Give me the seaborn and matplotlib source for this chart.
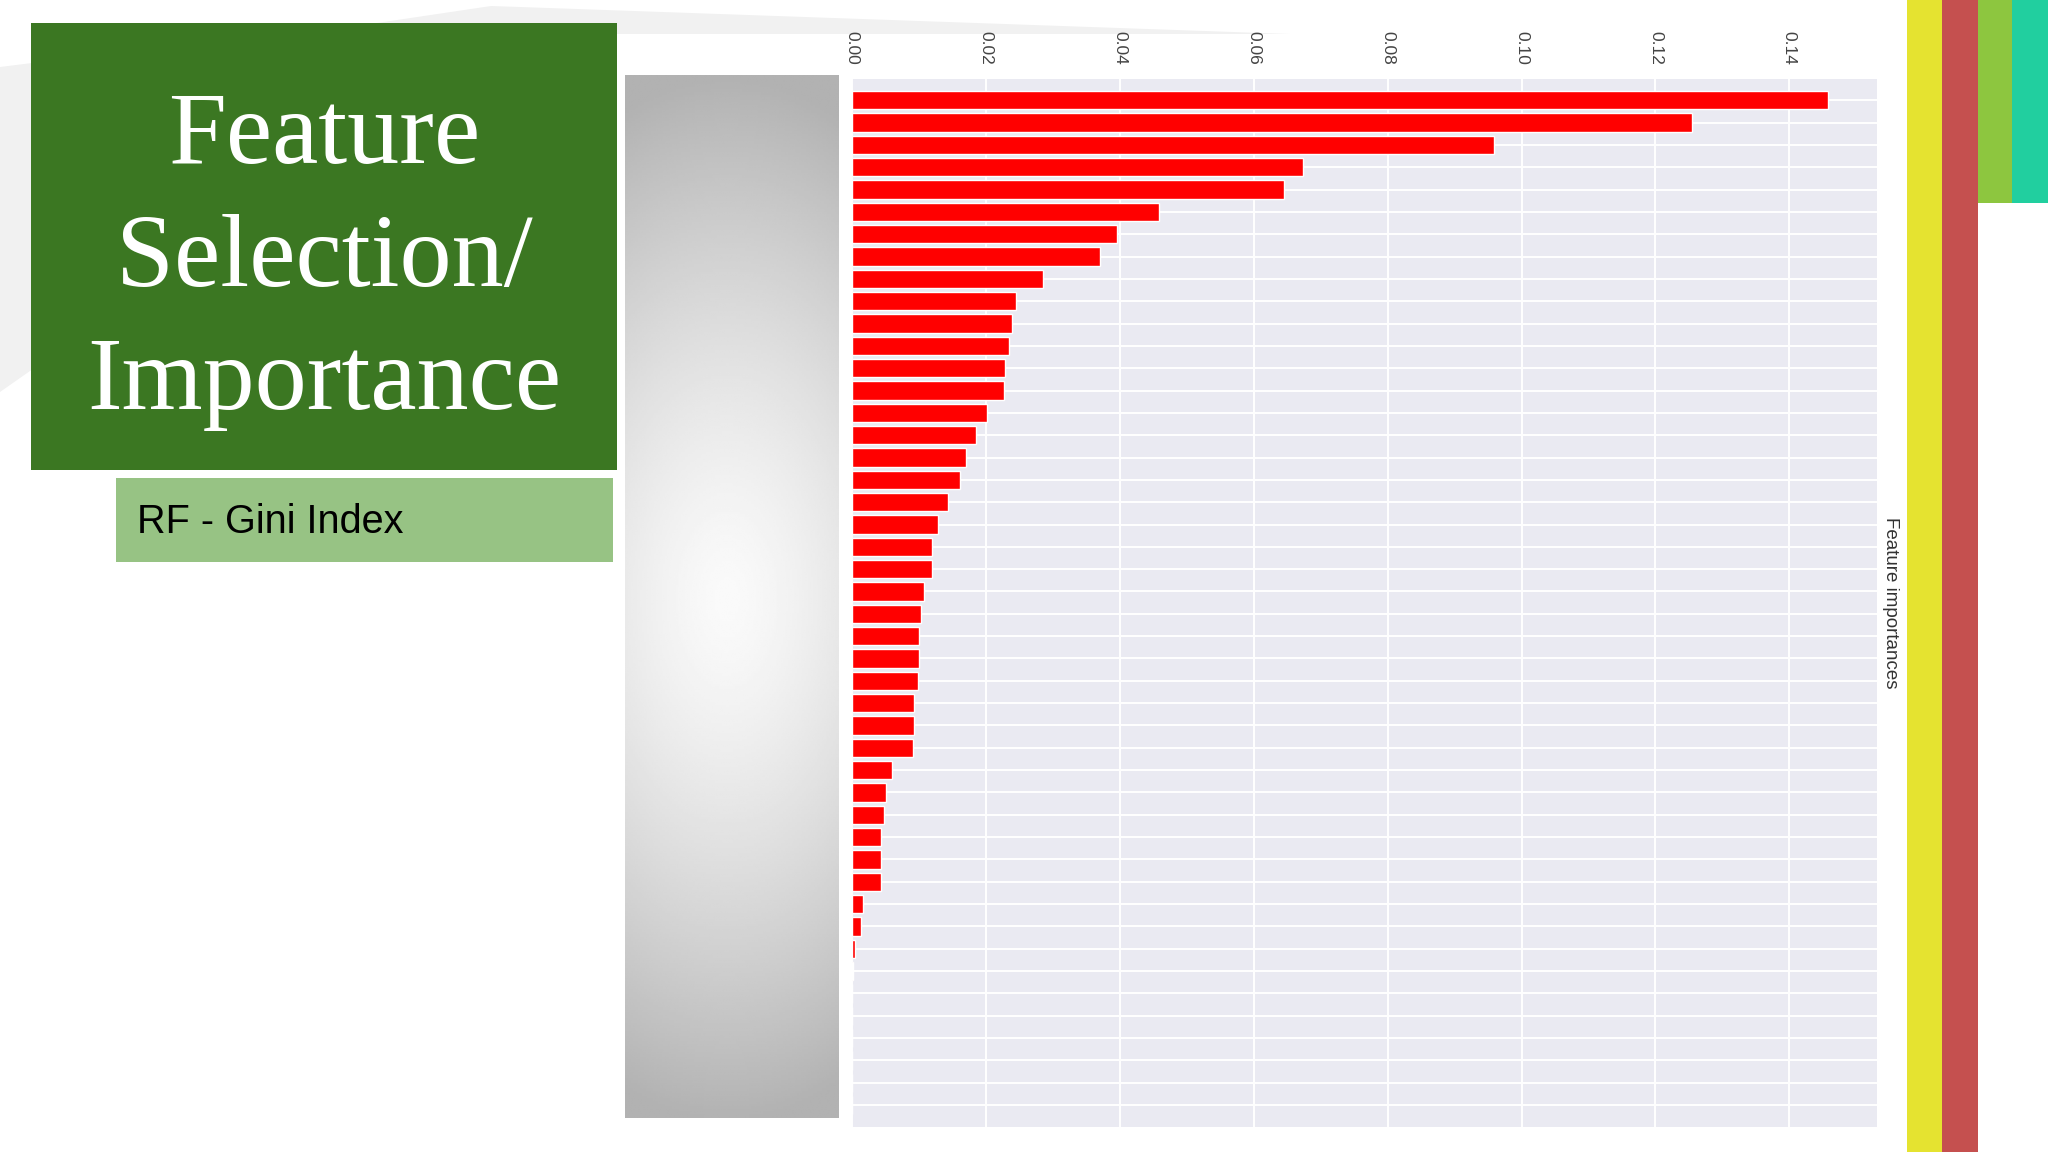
import numpy as np
import pandas as pd
import matplotlib
matplotlib.use("Agg")
import matplotlib.pyplot as plt
import seaborn as sns
from matplotlib.patches import Rectangle, Polygon

# ---------------- data ----------------
features = ["F01", "F02", "F03", "F04", "F05", "F06", "F07", "F08", "F09", "F10",
            "F11", "F12", "F13", "F14", "F15", "F16", "F17", "F18", "F19", "F20",
            "F21", "F22", "F23", "F24", "F25", "F26", "F27", "F28", "F29", "F30",
            "F31", "F32", "F33", "F34", "F35", "F36", "F37", "F38", "F39", "F40",
            "F41", "F42", "F43", "F44", "F45", "F46"]
importances = [0.1458, 0.1255, 0.0959, 0.0673, 0.0645, 0.0459, 0.0396, 0.0370, 0.0285, 0.0245,
               0.0239, 0.0234, 0.0229, 0.0227, 0.0201, 0.0185, 0.0171, 0.0161, 0.0143, 0.0128,
               0.0119, 0.0119, 0.0107, 0.0103, 0.0100, 0.0100, 0.0098, 0.0093, 0.0093, 0.0091,
               0.0060, 0.0051, 0.0048, 0.0044, 0.0044, 0.0044, 0.0016, 0.0013, 0.0004, 0.0002,
               0.0, 0.0, 0.0, 0.0, 0.0, 0.0]
value_ticks = [0.00, 0.02, 0.04, 0.06, 0.08, 0.10, 0.12, 0.14]
value_tick_labels = ["0.00", "0.02", "0.04", "0.06", "0.08", "0.10", "0.12", "0.14"]
axis_label = "Feature importances"
title_lines = ["Feature", "Selection/", "Importance"]
subtitle = "RF - Gini Index"

df = pd.DataFrame({"feature": features, "importance": importances})

# ---------------- style ----------------
sns.set_style("darkgrid")
plt.rcParams["font.family"] = ["Liberation Sans", "DejaVu Sans"]

W, H = 2048, 1152
fig = plt.figure(figsize=(W / 100, H / 100), dpi=100)
fig.patch.set_facecolor("white")


def fx(x):
    return x / W


def fy(y):
    return 1 - y / H


def rect(x0, y0, x1, y1, color, z=1):
    fig.add_artist(Rectangle((fx(x0), fy(y1)), (x1 - x0) / W, (y1 - y0) / H,
                             transform=fig.transFigure, facecolor=color,
                             edgecolor="none", zorder=z))


def poly(pts, color, z=-5):
    fig.add_artist(Polygon([(fx(x), fy(y)) for x, y in pts], closed=True,
                           transform=fig.transFigure, facecolor=color,
                           edgecolor="none", zorder=z))


# faint background swooshes
poly([(330, 30), (491, 6), (1290, 34), (620, 34)], "#f1f1f1")
poly([(0, 67), (40, 62), (40, 364), (0, 392)], "#f1f1f1")

# ---------------- chart ----------------
ax = fig.add_axes([fx(852), fy(1127), (1877 - 852) / W, (1127 - 79) / H])
sns.barplot(data=df, x="importance", y="feature", orient="h", color="#ff0000",
            saturation=1, width=0.82, ax=ax)
ax.set_ylim(len(features) - 0.02, -0.95)
ax.yaxis.grid(True, color="white", linewidth=1.4)
ax.xaxis.grid(True, color="white", linewidth=1.4)
ax.set_axisbelow(True)
ax.tick_params(axis="y", left=False, labelleft=False)
ax.set_ylabel("")
ax.set_xticks(value_ticks)
ax.set_xticklabels(value_tick_labels)
ax.xaxis.tick_top()
ax.tick_params(axis="x", labelrotation=-90, labelsize=12.5, labelcolor="#444444",
               pad=10, length=0)
for lab in ax.get_xticklabels():
    lab.set_horizontalalignment("center")
    lab.set_verticalalignment("bottom")
ax.set_xlabel(axis_label, fontsize=13.5, color="#333333", rotation=-90)
ax.xaxis.set_label_coords(1.005, 0.5)
ax.xaxis.label.set_horizontalalignment("left")
ax.xaxis.label.set_verticalalignment("center")
for s in ax.spines.values():
    s.set_visible(False)

# gradient box covering the feature names
gx = fig.add_axes([fx(625), fy(1118), (839 - 625) / W, (1118 - 75) / H])
yy, xx = np.mgrid[0:1:400j, 0:1:120j]
r = np.sqrt(((xx - 0.477) / 1.4) ** 2 + ((yy - 0.503) / 0.5) ** 2)
val = (250 - 72 * np.clip(r, 0, 1) ** 1.4) / 255.0
gx.imshow(val, cmap="gray", vmin=0, vmax=1, aspect="auto", interpolation="bilinear")
gx.set_axis_off()

# ---------------- slide decoration ----------------
rect(31, 23, 617, 470, "#3b7722", z=2)
rect(116, 478, 613, 562, "#97c384", z=2)
baselines = [163, 286, 409]
for line, yb in zip(title_lines, baselines):
    fig.text(fx(324), fy(yb), line, ha="center", va="baseline", fontsize=75,
             color="white", family=["Liberation Serif", "DejaVu Serif"], zorder=3)
fig.text(fx(137), fy(522), subtitle, ha="left", va="center", fontsize=28.5,
         color="black", family=["Liberation Sans", "DejaVu Sans"], zorder=3)

rect(1907, 0, 1942, 1152, "#e5e330")
rect(1942, 0, 1978, 1152, "#c5504f")
rect(1978, 0, 2012, 203, "#8dc63f")
rect(2012, 0, 2048, 203, "#21cf9f")

fig.savefig("out.png", dpi=100, facecolor="white")
